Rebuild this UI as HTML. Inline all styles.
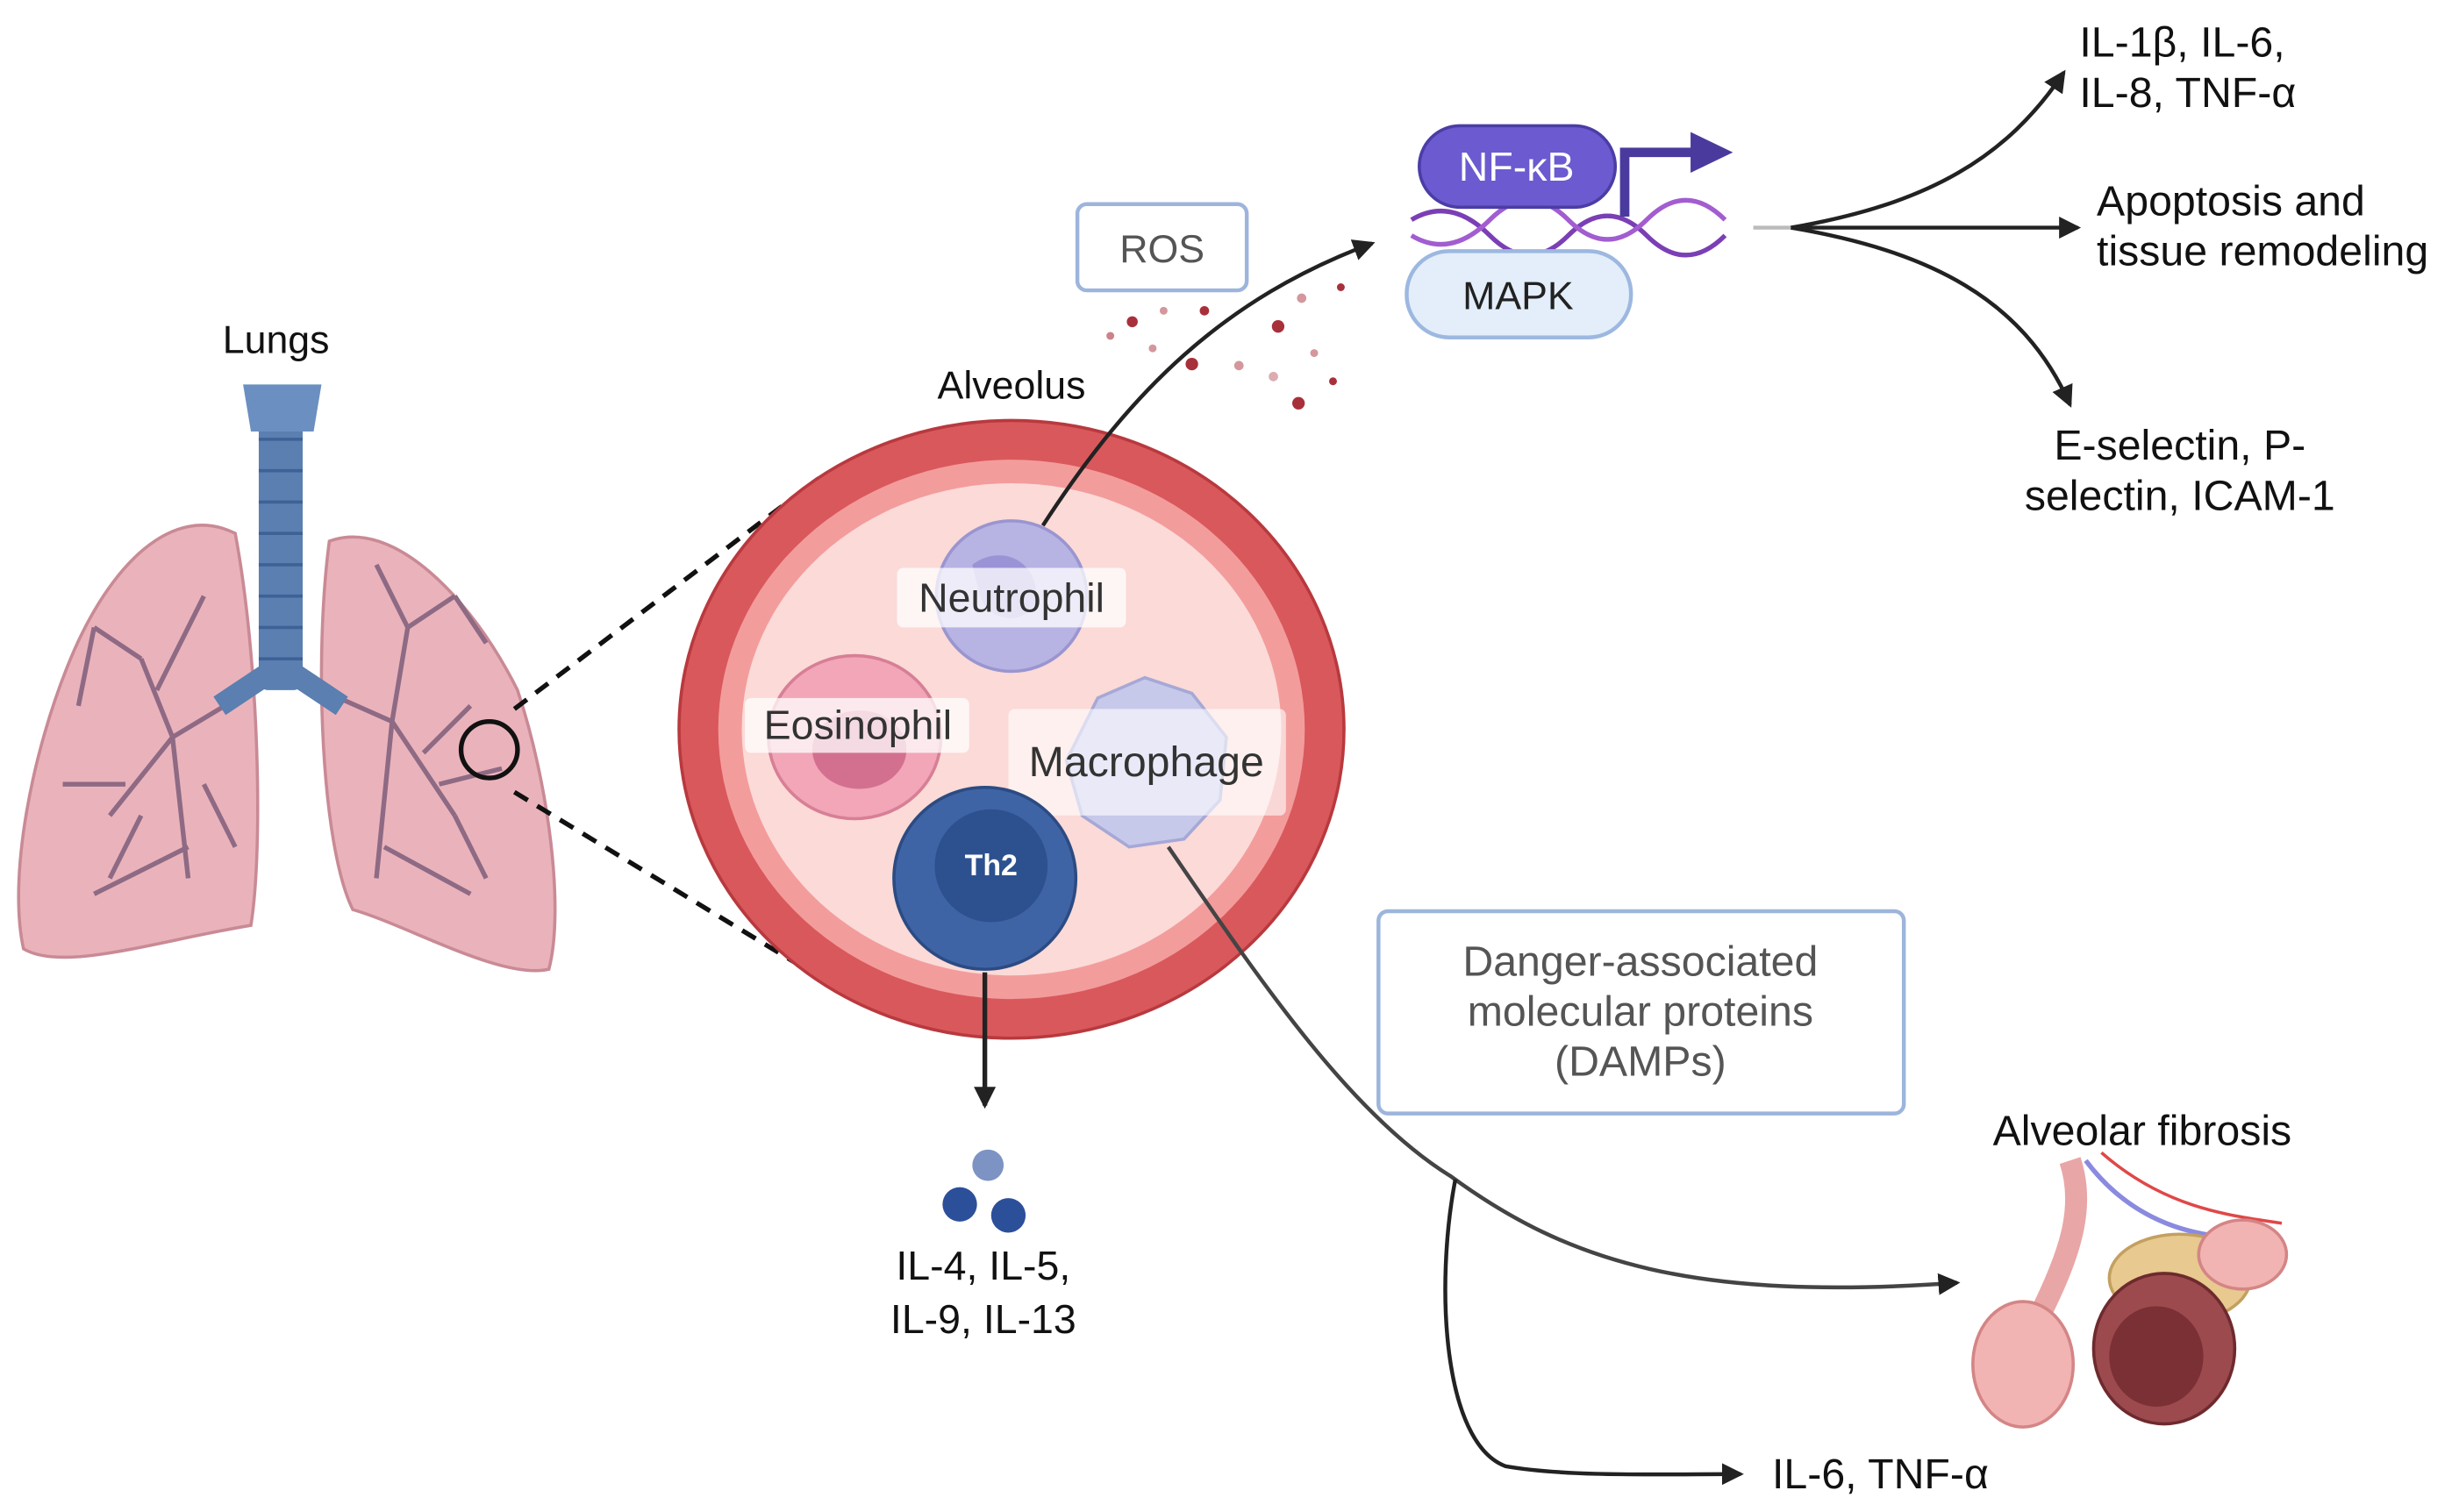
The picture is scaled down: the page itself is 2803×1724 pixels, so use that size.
<!DOCTYPE html>
<html><head><meta charset="utf-8"><style>
html,body{margin:0;padding:0;background:#fff;}
svg{display:block;}
text{font-family:"Liberation Sans",sans-serif;}
</style></head><body>
<svg width="2803" height="1724" viewBox="0 0 1568 964" xmlns="http://www.w3.org/2000/svg">
<defs>
<marker id="arl" markerWidth="14" markerHeight="14" refX="12" refY="7" orient="auto" markerUnits="userSpaceOnUse"><path d="M0,0 L14,7 L0,14 z" fill="#222"/></marker>
</defs>
<!-- Lungs -->
<text x="176" y="225" font-size="25" text-anchor="middle" fill="#111">Lungs</text>
<path d="M150,340 C110,320 70,360 45,420 C20,480 5,560 15,605 C40,620 100,600 160,590 C168,540 165,420 150,340 z" fill="#eab3bb" stroke="#c98a95" stroke-width="2"/>
<path d="M210,345 C250,330 300,380 330,440 C350,500 360,580 350,618 C320,625 260,590 225,580 C205,540 200,420 210,345 z" fill="#eab3bb" stroke="#c98a95" stroke-width="2"/>
<g stroke="#8e6a84" stroke-width="3" fill="none">
<path d="M160,440 L110,470 L70,520 M110,470 L90,420 M110,470 L120,560 M80,500 L40,500 M90,420 L60,400 M120,540 L60,570 M100,440 L130,380 M90,520 L70,560 M130,500 L150,540 M60,400 L50,450"/>
<path d="M205,440 L250,460 L290,520 M250,460 L260,400 M250,460 L240,560 M280,500 L320,490 M260,400 L290,380 M245,540 L300,570 M260,400 L240,360 M290,520 L310,560 M270,480 L300,450 M290,380 L310,410"/>
</g>
<rect x="165" y="250" width="28" height="190" rx="6" fill="#5a7fb0"/>
<g stroke="#3e6196" stroke-width="2">
<line x1="165" y1="280" x2="193" y2="280"/><line x1="165" y1="300" x2="193" y2="300"/><line x1="165" y1="320" x2="193" y2="320"/><line x1="165" y1="340" x2="193" y2="340"/><line x1="165" y1="360" x2="193" y2="360"/><line x1="165" y1="380" x2="193" y2="380"/><line x1="165" y1="400" x2="193" y2="400"/><line x1="165" y1="420" x2="193" y2="420"/>
</g>
<path d="M155,245 L205,245 L200,275 L160,275 z" fill="#6b8fc0"/>
<path d="M170,430 L140,450 M188,430 L218,450" stroke="#5a7fb0" stroke-width="14" fill="none"/>
<circle cx="312" cy="478" r="18" fill="none" stroke="#111" stroke-width="3"/>
<line x1="328" y1="452" x2="522" y2="305" stroke="#111" stroke-width="3" stroke-dasharray="10,7"/>
<line x1="328" y1="505" x2="537" y2="632" stroke="#111" stroke-width="3" stroke-dasharray="10,7"/>
<!-- Alveolus -->
<text x="645" y="254" font-size="25" text-anchor="middle" fill="#111">Alveolus</text>
<ellipse cx="645" cy="465" rx="212" ry="197" fill="#d9585c" stroke="#b8393e" stroke-width="2"/>
<ellipse cx="645" cy="465" rx="187" ry="172" fill="#f39c9c"/>
<ellipse cx="645" cy="465" rx="172" ry="157" fill="#fbdad7"/>
<circle cx="645" cy="380" r="48" fill="#b7b3e3" stroke="#9a95d0" stroke-width="2"/>
<path d="M620,360 C640,345 665,360 660,385 C650,400 630,395 625,380" fill="#9a93d6"/>
<rect x="572" y="362" width="146" height="38" rx="4" fill="#fff" opacity="0.75"/>
<text x="645" y="390" font-size="26" text-anchor="middle" fill="#333">Neutrophil</text>
<ellipse cx="545" cy="470" rx="55" ry="52" fill="#f2a6b8" stroke="#d77f96" stroke-width="2"/>
<ellipse cx="548" cy="478" rx="30" ry="25" fill="#d3708f"/>
<rect x="475" y="445" width="143" height="35" rx="4" fill="#fff" opacity="0.75"/>
<text x="547" y="471" font-size="26" text-anchor="middle" fill="#333">Eosinophil</text>
<path d="M700,445 L730,432 L760,442 L782,470 L778,510 L755,535 L720,540 L690,520 L680,485 z" fill="#c7c9ea" stroke="#a6a8d6" stroke-width="2"/>
<rect x="643" y="452" width="177" height="68" rx="4" fill="#fff" opacity="0.6"/>
<text x="731" y="495" font-size="27" text-anchor="middle" fill="#333">Macrophage</text>
<circle cx="628" cy="560" r="58" fill="#3f64a6" stroke="#2c4b82" stroke-width="2"/>
<circle cx="632" cy="552" r="36" fill="#2d518f"/>
<text x="632" y="558" font-size="19" font-weight="bold" text-anchor="middle" fill="#fff">Th2</text>
<line x1="628" y1="620" x2="628" y2="705" stroke="#222" stroke-width="3" marker-end="url(#arl)"/>
<circle cx="630" cy="743" r="10" fill="#7d93c4"/>
<circle cx="612" cy="768" r="11" fill="#2c4f9a"/>
<circle cx="643" cy="775" r="11" fill="#2c4f9a"/>
<text x="627" y="816" font-size="26" text-anchor="middle" fill="#111">IL-4, IL-5,</text>
<text x="627" y="850" font-size="26" text-anchor="middle" fill="#111">IL-9, IL-13</text>
<!-- ROS -->
<rect x="687" y="130" width="108" height="55" rx="6" fill="#fff" stroke="#9db5dc" stroke-width="2.5"/>
<text x="741" y="167" font-size="25" text-anchor="middle" fill="#555">ROS</text>
<g fill="#a8303a">
<circle cx="722" cy="205" r="3.5"/><circle cx="742" cy="198" r="2.5" opacity="0.5"/><circle cx="760" cy="232" r="4"/><circle cx="708" cy="214" r="2.5" opacity="0.6"/><circle cx="790" cy="233" r="3" opacity="0.5"/><circle cx="815" cy="208" r="4"/><circle cx="830" cy="190" r="3" opacity="0.5"/><circle cx="855" cy="183" r="2.5"/><circle cx="812" cy="240" r="3" opacity="0.4"/><circle cx="828" cy="257" r="4"/><circle cx="850" cy="243" r="2.5"/><circle cx="838" cy="225" r="2.5" opacity="0.5"/><circle cx="768" cy="198" r="3"/><circle cx="735" cy="222" r="2.5" opacity="0.5"/>
</g>
<path d="M665,335 C720,250 780,190 875,155" fill="none" stroke="#222" stroke-width="2.5" marker-end="url(#arl)"/>
<!-- NF-kB / MAPK -->
<path d="M900,140 Q925,125 950,150 T1000,150 T1050,150 T1100,150" fill="none" stroke="#7b3fb5" stroke-width="3"/>
<path d="M900,150 Q925,165 950,140 T1000,140 T1050,140 T1100,140" fill="none" stroke="#a25dd0" stroke-width="3"/>
<rect x="905" y="80" width="125" height="52" rx="26" fill="#6b5ad0" stroke="#4a3da6" stroke-width="2"/>
<text x="967" y="115" font-size="26" text-anchor="middle" fill="#fff">NF-κB</text>
<path d="M1036,138 L1036,97 L1080,97" fill="none" stroke="#4a3a9e" stroke-width="6"/>
<path d="M1078,84 L1105,97 L1078,110 z" fill="#4a3a9e"/>
<rect x="897" y="160" width="143" height="55" rx="27" fill="#e3eefa" stroke="#9db8e0" stroke-width="2.5"/>
<text x="968" y="197" font-size="25" text-anchor="middle" fill="#222">MAPK</text>
<line x1="1118" y1="145" x2="1145" y2="145" stroke="#bbb" stroke-width="2.5"/>
<path d="M1142,145 C1230,130 1280,100 1316,46" fill="none" stroke="#222" stroke-width="2.5" marker-end="url(#arl)"/>
<line x1="1142" y1="145" x2="1325" y2="145" stroke="#222" stroke-width="2.5" marker-end="url(#arl)"/>
<path d="M1142,145 C1230,160 1290,190 1320,258" fill="none" stroke="#222" stroke-width="2.5" marker-end="url(#arl)"/>
<text x="1326" y="36" font-size="27" fill="#111">IL-1β, IL-6,</text>
<text x="1326" y="68" font-size="27" fill="#111">IL-8, TNF-α</text>
<text x="1337" y="137" font-size="27" fill="#111">Apoptosis and</text>
<text x="1337" y="169" font-size="27" fill="#111">tissue remodeling</text>
<text x="1390" y="293" font-size="27" text-anchor="middle" fill="#111">E-selectin, P-</text>
<text x="1390" y="325" font-size="27" text-anchor="middle" fill="#111">selectin, ICAM-1</text>
<!-- DAMPs -->
<rect x="879" y="581" width="335" height="129" rx="6" fill="#fff" stroke="#9db5dc" stroke-width="2.5"/>
<text x="1046" y="622" font-size="27" text-anchor="middle" fill="#555">Danger-associated</text>
<text x="1046" y="654" font-size="27" text-anchor="middle" fill="#555">molecular proteins</text>
<text x="1046" y="686" font-size="27" text-anchor="middle" fill="#555">(DAMPs)</text>
<path d="M745,540 C800,620 860,710 925,750 C1000,805 1080,830 1248,818" fill="none" stroke="#444" stroke-width="2.5" marker-end="url(#arl)"/>
<path d="M928,752 C915,820 920,920 960,935 C1000,942 1060,940 1110,940" fill="none" stroke="#222" stroke-width="2.5" marker-end="url(#arl)"/>
<text x="1130" y="949" font-size="27" fill="#111">IL-6, TNF-α</text>
<text x="1366" y="730" font-size="27" text-anchor="middle" fill="#111">Alveolar fibrosis</text>
<path d="M1320,740 C1330,770 1320,800 1300,840" stroke="#e9a6a6" stroke-width="14" fill="none"/>
<path d="M1330,740 C1360,780 1400,790 1440,790" stroke="#8a8ae0" stroke-width="3" fill="none"/>
<path d="M1340,735 C1380,770 1420,775 1455,780" stroke="#e04848" stroke-width="2" fill="none"/>
<ellipse cx="1290" cy="870" rx="32" ry="40" fill="#f2b3b3" stroke="#d48585" stroke-width="2"/>
<ellipse cx="1390" cy="815" rx="45" ry="28" fill="#e8c98f" stroke="#c4a060" stroke-width="2"/>
<ellipse cx="1430" cy="800" rx="28" ry="22" fill="#f2b3b3" stroke="#d48585" stroke-width="2"/>
<ellipse cx="1380" cy="860" rx="45" ry="48" fill="#9c4a4e" stroke="#6e2a2e" stroke-width="2"/>
<ellipse cx="1375" cy="865" rx="30" ry="32" fill="#7a3034"/>
</svg>
</body></html>
